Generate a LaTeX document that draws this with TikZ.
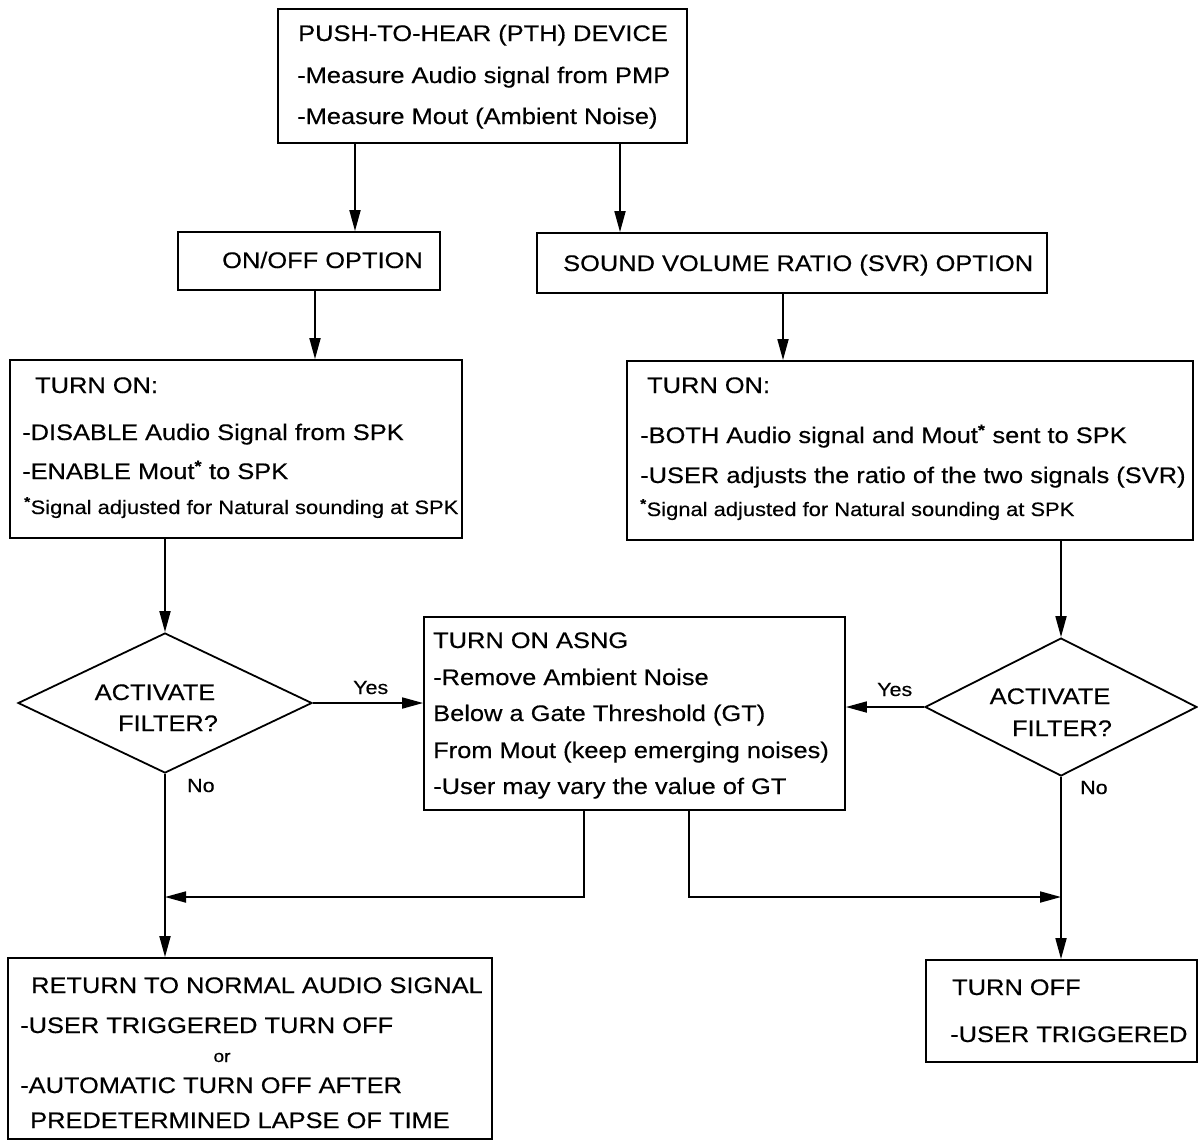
\documentclass[tikz,border=0pt]{standalone}
\usepackage{fontspec}
\setmainfont{Liberation Sans}[FakeStretch=1.13,FakeBold=0.4]
\usetikzlibrary{arrows.meta,shapes.geometric}
\tikzset{
  box/.style={draw, rectangle, line width=1.8pt, inner sep=0pt},
  dia/.style={draw, diamond, line width=1.8pt, inner sep=0pt},
  arr/.style={line width=1.8pt, -{Triangle[length=21pt,width=11pt]}},
  txt/.style={inner sep=0pt, anchor=base west, font=\fontsize{22.5}{27}\selectfont},
  ctxt/.style={inner sep=0pt, anchor=base, font=\fontsize{22.5}{27}\selectfont},
  foot/.style={inner sep=0pt, anchor=base west, font=\fontsize{19.4}{22}\selectfont},
  lbl/.style={inner sep=0pt, anchor=base west, font=\fontsize{19}{22}\selectfont},
}
\newcommand{\astk}{\textsuperscript{\textbf{*}}}
\begin{document}
\begin{tikzpicture}[x=1pt,y=-1pt]
\useasboundingbox (0,0) rectangle (1198,1141);
% boxes
\node[box, minimum width=409pt, minimum height=134pt] (pth) at (482.5,76) {};
\node[box, minimum width=262pt, minimum height=58pt] (onoff) at (309,261) {};
\node[box, minimum width=510pt, minimum height=60pt] (svr) at (792,263) {};
\node[box, minimum width=452pt, minimum height=178pt] (ton1) at (236,449) {};
\node[box, minimum width=566pt, minimum height=179pt] (ton2) at (910,450.5) {};
\node[box, minimum width=421pt, minimum height=193pt] (asng) at (634.5,713.5) {};
\node[box, minimum width=484pt, minimum height=181pt] (ret) at (250,1048.5) {};
\node[box, minimum width=271pt, minimum height=102pt] (off) at (1061.5,1011) {};
\node[dia, minimum width=294pt, minimum height=140pt] (dia1) at (165,703) {};
\node[dia, minimum width=272pt, minimum height=138pt] (dia2) at (1061,707) {};
% helper coordinates
\coordinate (cA) at (355,0);
\coordinate (cB) at (620,0);
\coordinate (cC) at (315,0);
\coordinate (cD) at (783,0);
\coordinate (cE) at (584,0);
\coordinate (cF) at (689,0);
\coordinate (jL) at (165,897);
\coordinate (jR) at (1061,897);
% connectors
\draw[arr] (cA |- pth.south) -- (cA |- onoff.north);
\draw[arr] (cB |- pth.south) -- (cB |- svr.north);
\draw[arr] (cC |- onoff.south) -- (cC |- ton1.north);
\draw[arr] (cD |- svr.south) -- (cD |- ton2.north);
\draw[arr] (dia1.north |- ton1.south) -- (dia1.north);
\draw[arr] (dia2.north |- ton2.south) -- (dia2.north);
\draw[arr] (dia1.east) -- (dia1.east -| asng.west);
\draw[arr] (dia2.west) -- (dia2.west -| asng.east);
\draw[arr] (dia1.south) -- (dia1.south |- ret.north);
\draw[arr] (dia2.south) -- (dia2.south |- off.north);
\draw[arr] (cE |- asng.south) |- (jL);
\draw[arr] (cF |- asng.south) |- (jR);
% texts
\node[txt] (t1) at (298,41) {PUSH-TO-HEAR (PTH) DEVICE};
\node[txt] (t2) at (297,83) {-Measure Audio signal from PMP};
\node[txt] (t3) at (297,124) {-Measure Mout (Ambient Noise)};
\node[txt] (t4) at (222,268) {ON/OFF OPTION};
\node[txt] (t5) at (563,271) {SOUND VOLUME RATIO (SVR) OPTION};
\node[txt] (t6) at (35,393) {TURN ON:};
\node[txt] (t7) at (22,440) {-DISABLE Audio Signal from SPK};
\node[txt] (t8) at (22,479) {-ENABLE Mout\astk\ to SPK};
\node[foot] (t9) at (24,514) {\astk Signal adjusted for Natural sounding at SPK};
\node[txt] (t10) at (647,393) {TURN ON:};
\node[txt] (t11) at (640,443) {-BOTH Audio signal and Mout\astk\ sent to SPK};
\node[txt] (t12) at (640,483) {-USER adjusts the ratio of the two signals (SVR)};
\node[foot] (t13) at (640,516) {\astk Signal adjusted for Natural sounding at SPK};
\node[ctxt] (t14) at (155,700) {ACTIVATE};
\node[ctxt] (t15) at (168,731) {FILTER?};
\node[ctxt] (t16) at (1050,704) {ACTIVATE};
\node[ctxt] (t17) at (1062,736) {FILTER?};
\node[lbl] (l1) at (353,694) {Yes};
\node[lbl] (l2) at (877,696) {Yes};
\node[lbl] (l3) at (187,792) {No};
\node[lbl] (l4) at (1080,794) {No};
\node[txt] (t18) at (433,648) {TURN ON ASNG};
\node[txt] (t19) at (433,685) {-Remove Ambient Noise};
\node[txt] (t20) at (433,721) {Below a Gate Threshold (GT)};
\node[txt] (t21) at (433,758) {From Mout (keep emerging noises)};
\node[txt] (t22) at (433,794) {-User may vary the value of GT};
\node[txt] (t23) at (31,993) {RETURN TO NORMAL AUDIO SIGNAL};
\node[txt] (t24) at (20,1033) {-USER TRIGGERED TURN OFF};
\node[inner sep=0pt, anchor=base, font=\fontsize{17}{19}\selectfont] (t25) at (222,1062) {or};
\node[txt] (t26) at (20,1093) {-AUTOMATIC TURN OFF AFTER};
\node[txt] (t27) at (30,1128) {PREDETERMINED LAPSE OF TIME};
\node[txt] (t28) at (952,995) {TURN OFF};
\node[txt] (t29) at (950,1042) {-USER TRIGGERED};
\end{tikzpicture}
\end{document}
